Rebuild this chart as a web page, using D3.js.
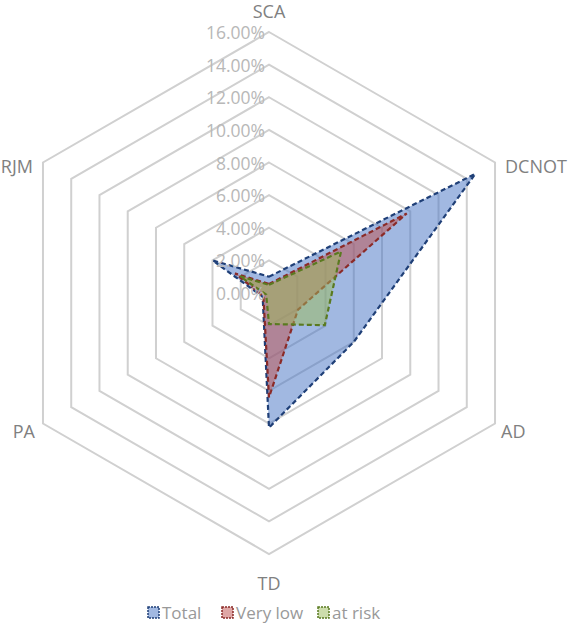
<!DOCTYPE html>
<html><head><meta charset="utf-8">
<script src="https://cdn.jsdelivr.net/npm/d3@7"></script>
<style>body{margin:0;background:#fff}svg{font-family:"Open Sans",sans-serif}</style>
</head><body><svg id="c" width="569" height="624"></svg>
<script>
const categories = ["SCA","DCNOT","AD","TD","PA","RJM"];
const tickValues = [0,0.02,0.04,0.06,0.08,0.10,0.12,0.14,0.16];
const seriesNames = ["Total","Very low","at risk"];
const total   = [0.010,0.146,0.060,0.0825,0.0045,0.040];
const veryLow = [0.0055,0.0975,0.0205,0.064,0.004,0.024];
const atRisk  = [0.005,0.051,0.0395,0.019,0.002,0.0205];
const fills = ["#4472C4","#C0504D","#9BBB59"];
const strokes = ["#1F3F77","#8B2B28","#5A7A20"];

const svg = d3.select("#c");
const cx = 269, cy = 293;
const r = d3.scaleLinear().domain([0,0.16]).range([0,261]);
const ang = i => i*Math.PI*2/categories.length;
const pt = (i,v) => [cx + r(v)*Math.sin(ang(i)), cy - r(v)*Math.cos(ang(i))];

const g = svg.append("g");
tickValues.slice(1).forEach(t=>{
  g.append("polygon").attr("points",categories.map((c,i)=>pt(i,t).join(",")).join(" "))
   .attr("fill","none").attr("stroke","#d0d0d0").attr("stroke-width",2);
});
const data = [total, veryLow, atRisk];
data.forEach((s,k)=>{
  g.append("polygon").attr("points",s.map((v,i)=>pt(i,v).join(",")).join(" "))
   .attr("fill",fills[k]).attr("fill-opacity",0.5)
   .attr("stroke",strokes[k]).attr("stroke-width",2.2).attr("stroke-dasharray","5,3");
});
tickValues.forEach(t=>{
  g.append("text").attr("x",cx-4).attr("y",cy-r(t)+7).attr("text-anchor","end")
   .attr("font-size",17.5).attr("fill","#b8b8b8").text(d3.format(".2%")(t));
});
const labOff = [[0,-20],[24,4],[20,8],[0,30],[-22,8],[-24,4]];
categories.forEach((c,i)=>{
  const [x,y]=pt(i,0.16);
  g.append("text").attr("x",x+labOff[i][0]).attr("y",y+labOff[i][1]+6).attr("text-anchor", i==0||i==3?"middle":(i<3?"start":"end"))
   .attr("dx", i==1||i==2? -14 : (i==4||i==5? 14:0))
   .attr("font-size",18).attr("fill","#808080").text(c);
});
const leg = svg.append("g");
const lx = [148,222,318];
seriesNames.forEach((n,k)=>{
  leg.append("rect").attr("x",lx[k]).attr("y",607).attr("width",11).attr("height",11)
    .attr("fill",fills[k]).attr("fill-opacity",0.5).attr("stroke",strokes[k]).attr("stroke-width",1.5).attr("stroke-dasharray","2,1");
  leg.append("text").attr("x",lx[k]+14).attr("y",619).attr("font-size",17).attr("fill","#999").text(n);
});
</script></body></html>
